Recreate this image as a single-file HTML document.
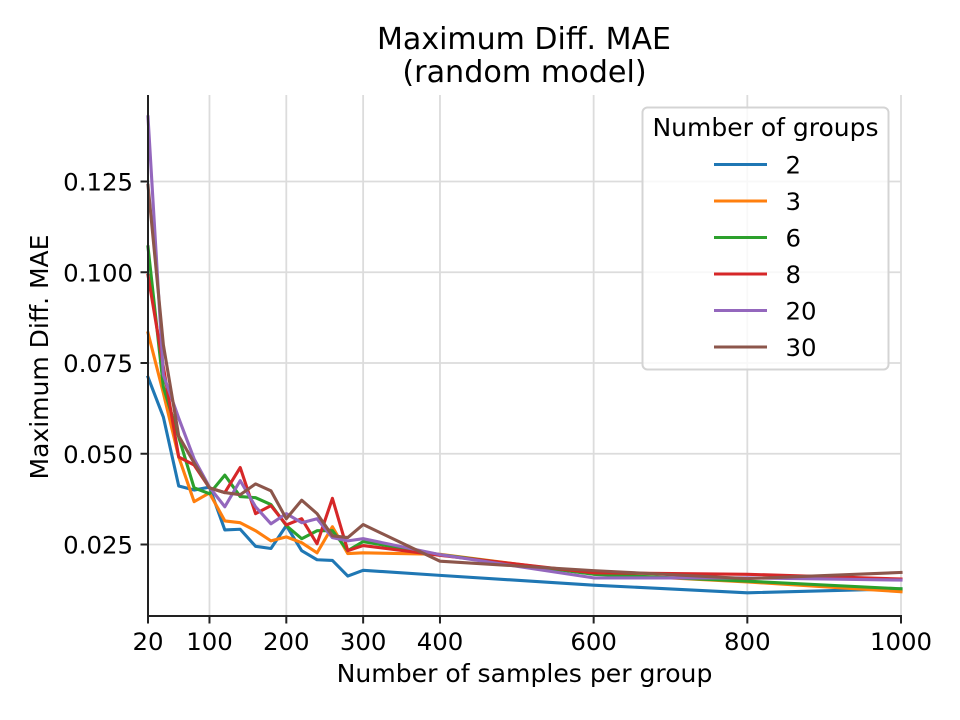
<!DOCTYPE html>
<html>
<head>
<meta charset="utf-8">
<style>
html,body{margin:0;padding:0;background:#fff;}
svg{display:block;font-family:"DejaVu Sans","Liberation Sans",sans-serif;}
text{fill:#000;}
</style>
</head>
<body>
<svg id="chart" xmlns="http://www.w3.org/2000/svg" width="960" height="720" viewBox="0 0 960 720">
  <text x="524" y="49" font-size="30" text-anchor="middle">Maximum Diff. MAE</text>
  <text x="524.5" y="82" font-size="30.2" text-anchor="middle">(random model)</text>
  <g id="grid"></g>
  <g id="series"></g>
  <g id="axes"></g>
  <text x="524.5" y="682" font-size="25.1" text-anchor="middle">Number of samples per group</text>
  <text transform="translate(48,357) rotate(-90)" font-size="25" text-anchor="middle">Maximum Diff. MAE</text>
  <g id="legend"></g>
</svg>
<script>
const samples = [20,40,60,80,100,120,140,160,180,200,220,240,260,280,300,400,600,800,1000];
const groupLabels = ['2','3','6','8','20','30'];
const seriesColors = ['#1f77b4','#ff7f0e','#2ca02c','#d62728','#9467bd','#8c564b'];
const values2 = [.0711,.0601,.0411,.0400,.0408,.0290,.0292,.0245,.0239,.0302,.0233,.0208,.0206,.0163,.0179,.0165,.0138,.0117,.0128];
const values3 = [.0833,.0667,.0491,.0368,.0392,.0315,.0310,.0288,.0260,.0271,.0255,.0227,.0299,.0225,.0227,.0223,.0169,.0147,.0120];
const values6 = [.1070,.0684,.0546,.0406,.0390,.0441,.0382,.0379,.0360,.0302,.0266,.0288,.0288,.0233,.0258,.0222,.0168,.0149,.0128];
const values8 = [.0992,.0739,.0491,.0469,.0406,.0393,.0462,.0335,.0357,.0304,.0321,.0252,.0377,.0233,.0247,.0220,.0172,.0168,.0155];
const values20 = [.1428,.0717,.0598,.0486,.0408,.0354,.0426,.0354,.0307,.0335,.0310,.0321,.0269,.0260,.0266,.0222,.0158,.0158,.0152];
const values30 = [.1240,.0800,.0549,.0475,.0406,.0393,.0387,.0417,.0398,.0321,.0372,.0335,.0274,.0269,.0305,.0204,.0178,.0156,.0173];
const allSeries = [values2,values3,values6,values8,values20,values30];
const xTicks = [20,100,200,300,400,600,800,1000];
const yTicks = [0.025,0.050,0.075,0.100,0.125];

const NS = 'http://www.w3.org/2000/svg';
const PLOT = {left:148, right:901, top:95, bottom:616};
function xScale(v){ return 148 + (v - 20) * (753 / 980); }
function yScale(v){ return 544.5 - (v - 0.025) * 3630; }
function make(parent, tag, attrs, text){
  const el = document.createElementNS(NS, tag);
  for (const k in attrs) el.setAttribute(k, attrs[k]);
  if (text !== undefined) el.textContent = text;
  parent.appendChild(el);
  return el;
}
const gridG = document.getElementById('grid');
const axesG = document.getElementById('axes');
const seriesG = document.getElementById('series');
const legendG = document.getElementById('legend');

xTicks.forEach(function(t){
  const x = xScale(t);
  const g = make(gridG, 'line', {x1:x, x2:x, y1:PLOT.top, y2:PLOT.bottom, stroke:'#dcdcdc', 'stroke-width':1.8});
  
  
  const m = make(axesG, 'line', {x1:x, x2:x, y1:PLOT.bottom, y2:PLOT.bottom + 7.5, stroke:'#222', 'stroke-width':2});
  
  
  const l = make(axesG, 'text', {x:x, y:650, 'font-size':24.4, 'text-anchor':'middle'}, String(t));
  
  
});
yTicks.forEach(function(t){
  const y = yScale(t);
  const g = make(gridG, 'line', {x1:PLOT.left, x2:PLOT.right, y1:y, y2:y, stroke:'#dcdcdc', 'stroke-width':1.8});
  
  
  const m = make(axesG, 'line', {x1:PLOT.left - 7.5, x2:PLOT.left, y1:y, y2:y, stroke:'#222', 'stroke-width':2});
  
  
  const l = make(axesG, 'text', {x:133, y:y + 9, 'font-size':24.4, 'text-anchor':'end'}, t.toFixed(3));
  
  
});
allSeries.forEach(function(vals, i){
  const pts = vals.map(function(v, j){ return xScale(samples[j]).toFixed(2) + ',' + yScale(v).toFixed(2); }).join(' ');
  const p = make(seriesG, 'polyline', {points:pts, fill:'none', stroke:seriesColors[i], 'stroke-width':3.1, 'stroke-linejoin':'round', 'stroke-linecap':'square'});
  
  
});
const spineL = make(axesG, 'line', {x1:PLOT.left, x2:PLOT.left, y1:PLOT.top, y2:PLOT.bottom + 1, stroke:'#222', 'stroke-width':2});


const spineB = make(axesG, 'line', {x1:PLOT.left - 1, x2:PLOT.right + 1, y1:PLOT.bottom, y2:PLOT.bottom, stroke:'#222', 'stroke-width':2});



const box = make(legendG, 'rect', {x:642.5, y:107.5, width:246, height:262, rx:5, ry:5, fill:'#fff', 'fill-opacity':0.8, stroke:'#d4d4d4', 'stroke-width':2});


const legTitle = make(legendG, 'text', {x:765.5, y:136, 'font-size':25, 'text-anchor':'middle'}, 'Number of groups');


groupLabels.forEach(function(lab, i){
  const cy = 164.5 + i * 36.5;
  const h = make(legendG, 'line', {x1:714, x2:767, y1:cy, y2:cy, stroke:seriesColors[i], 'stroke-width':3.1});
  
  
  const t = make(legendG, 'text', {x:785.5, y:cy + 9, 'font-size':24.4}, lab);
  
  
});
</script>
</body>
</html>
